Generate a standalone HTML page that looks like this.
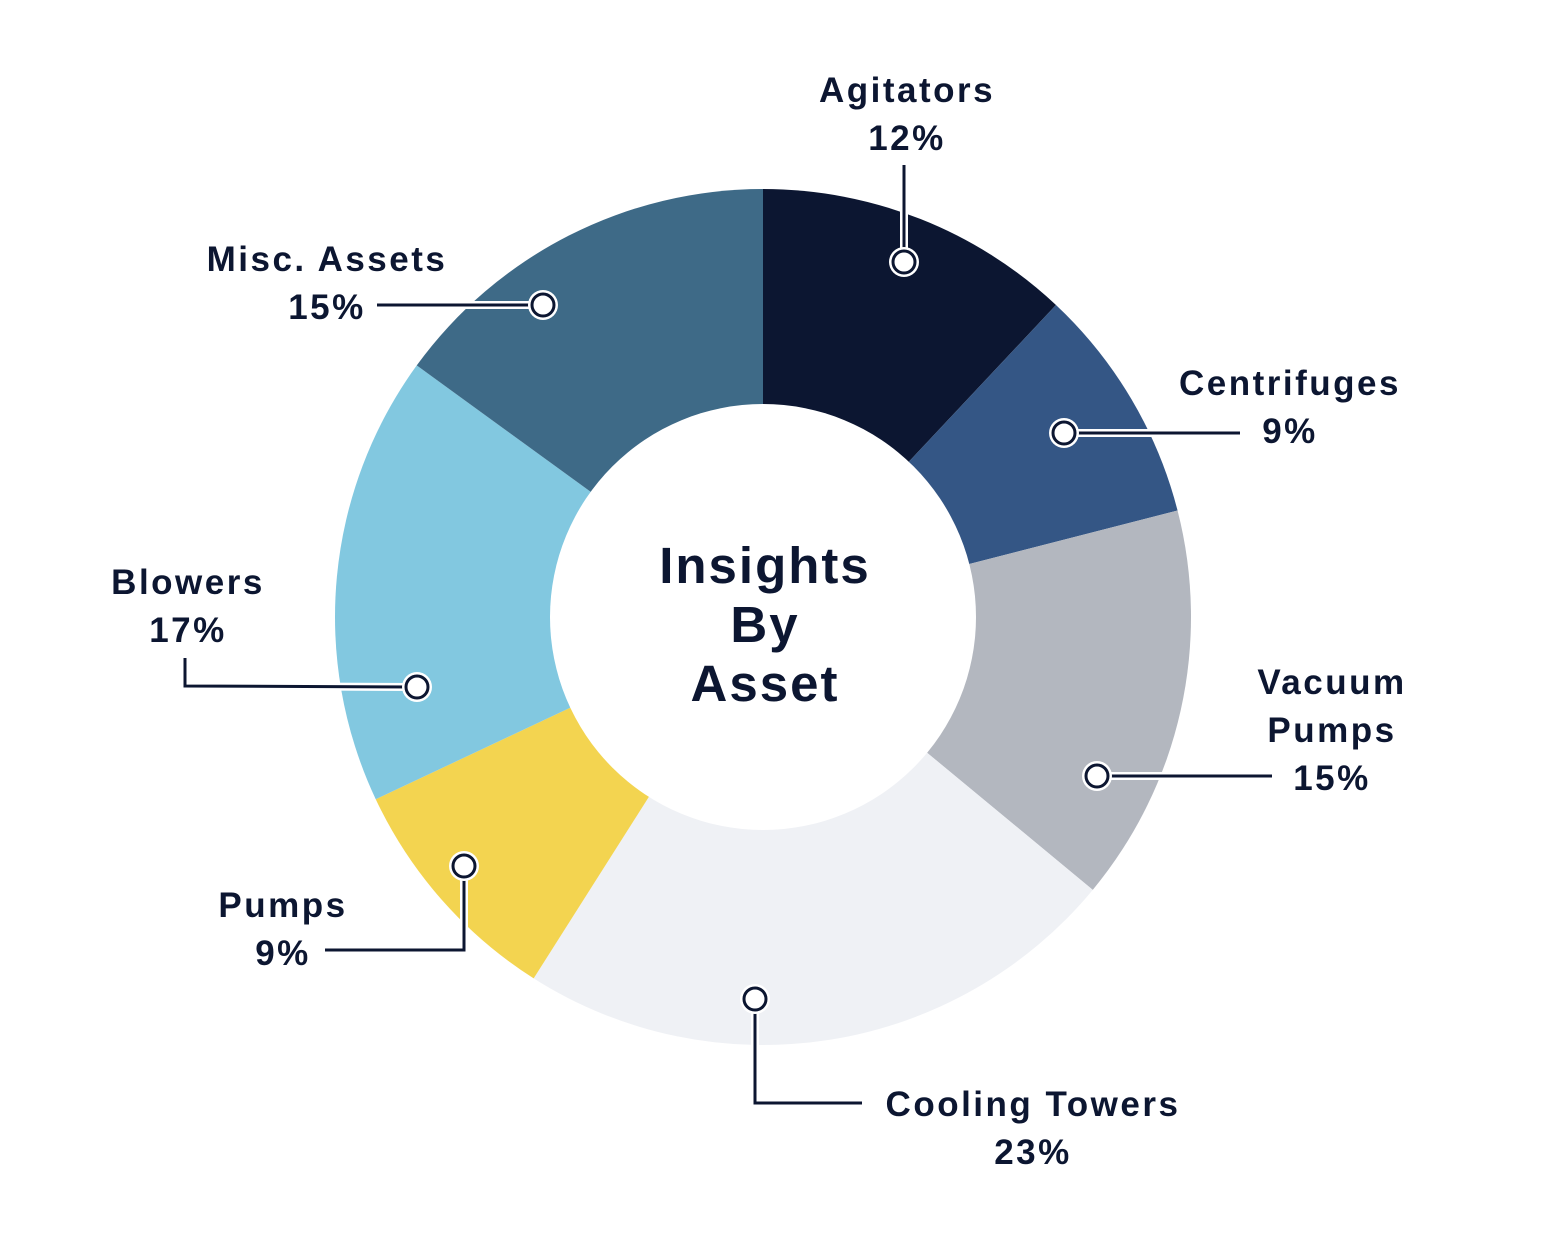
<!DOCTYPE html>
<html><head><meta charset="utf-8">
<style>
html,body{margin:0;padding:0;background:#fff;}
svg{display:block;}
text{font-family:"Liberation Sans",sans-serif;font-weight:bold;fill:#0c1631;font-size:35px;letter-spacing:2.5px;text-anchor:middle;}
text.t{font-size:51px;letter-spacing:2px;}
</style></head>
<body>
<svg id="s" width="1544" height="1234" viewBox="0 0 1544 1234" xmlns="http://www.w3.org/2000/svg">
<g id="seg"></g>
<circle cx="763" cy="617" r="213" fill="#fff"/>
<text class="t" x="765" y="583">Insights</text>
<text class="t" x="765" y="642">By</text>
<text class="t" x="765" y="701">Asset</text>

<g fill="none" stroke-linejoin="miter">
<g stroke="#fff" stroke-width="8">
<polyline points="904,165 904,262"/>
<polyline points="1064,433 1240,433"/>
<polyline points="1097,776 1272,776"/>
<polyline points="755,999 755,1103 862,1103"/>
<polyline points="464,866 464,950 325,950"/>
<polyline points="417,687 185,686 185,658"/>
<polyline points="543,305 377,305"/>
</g>
<g stroke="#0c1631" stroke-width="3">
<polyline points="904,165 904,262"/>
<polyline points="1064,433 1240,433"/>
<polyline points="1097,776 1272,776"/>
<polyline points="755,999 755,1103 862,1103"/>
<polyline points="464,866 464,950 325,950"/>
<polyline points="417,687 185,686 185,658"/>
<polyline points="543,305 377,305"/>
</g>
</g>
<g fill="#fff">
<circle cx="904" cy="262" r="15"/>
<circle cx="1064" cy="433" r="15"/>
<circle cx="1097" cy="776" r="15"/>
<circle cx="755" cy="999" r="15"/>
<circle cx="464" cy="866" r="15"/>
<circle cx="417" cy="687" r="15"/>
<circle cx="543" cy="305" r="15"/>
</g>
<g fill="#fff" stroke="#0c1631" stroke-width="3">
<circle cx="904" cy="262" r="11"/>
<circle cx="1064" cy="433" r="11"/>
<circle cx="1097" cy="776" r="11"/>
<circle cx="755" cy="999" r="11"/>
<circle cx="464" cy="866" r="11"/>
<circle cx="417" cy="687" r="11"/>
<circle cx="543" cy="305" r="11"/>
</g>

<text x="907" y="102">Agitators</text>
<text x="907" y="150">12%</text>
<text x="1290" y="395">Centrifuges</text>
<text x="1290" y="443">9%</text>
<text x="1332" y="694">Vacuum</text>
<text x="1332" y="742">Pumps</text>
<text x="1332" y="790">15%</text>
<text x="1033" y="1116">Cooling Towers</text>
<text x="1033" y="1164">23%</text>
<text x="283" y="917">Pumps</text>
<text x="283" y="965">9%</text>
<text x="188" y="594">Blowers</text>
<text x="188" y="642">17%</text>
<text x="327" y="271">Misc. Assets</text>
<text x="327" y="319">15%</text>
</svg>
<script>
(function(){
var cx=763,cy=617,R=428;
var data=[[12,"#0c1631"],[9,"#345685"],[15,"#b3b7bf"],[23,"#eff1f5"],[9,"#f3d450"],[17,"#82c8e0"],[15,"#3e6a87"]];
var g=document.getElementById("seg"),a=0,ns="http://www.w3.org/2000/svg";
function pt(t){var r=t*Math.PI/180;return [cx+R*Math.sin(r),cy-R*Math.cos(r)];}
data.forEach(function(d){
var b=a+d[0]*3.6,p1=pt(a),p2=pt(b);
var path=document.createElementNS(ns,"path");
path.setAttribute("d","M"+cx+","+cy+" L"+p1[0]+","+p1[1]+" A"+R+","+R+" 0 "+((b-a)>180?1:0)+" 1 "+p2[0]+","+p2[1]+" Z");
path.setAttribute("fill",d[1]);
g.appendChild(path);a=b;});
})();
</script>
</body></html>
